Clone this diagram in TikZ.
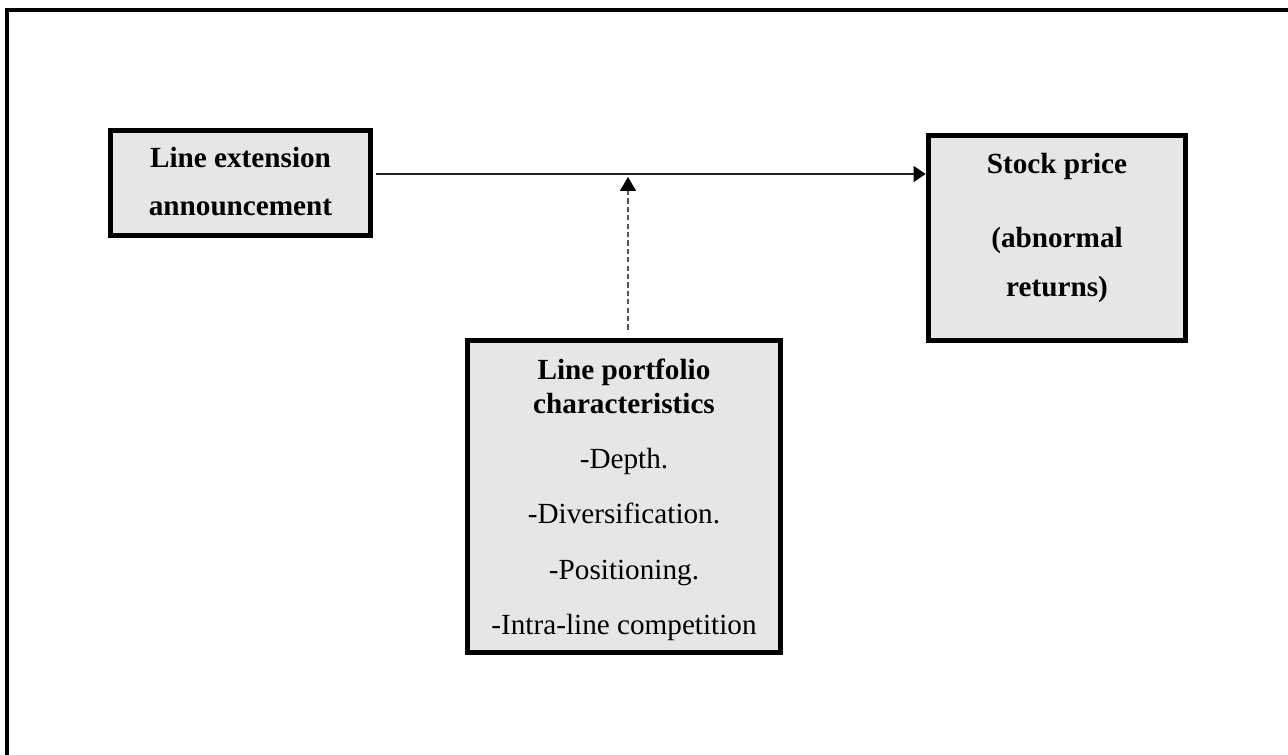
\documentclass[tikz,border=0pt]{standalone}
\usepackage{fontspec}
\setmainfont{Liberation Serif}
\usepackage{tikz}
\usetikzlibrary{arrows.meta, positioning}
\usepackage{xcolor}

\definecolor{boxgray}{HTML}{E6E6E6}
\definecolor{linegray}{HTML}{222222}
\definecolor{dashgray}{HTML}{555555}

\tikzset{
    framebox/.style={draw=black, line width=2.9pt, fill=boxgray, inner sep=0pt},
    headtxt/.style={font=\fontsize{14.6}{17}\selectfont\bfseries, anchor=base, inner sep=0pt},
    itemtxt/.style={font=\fontsize{14.6}{17}\selectfont, anchor=base, inner sep=0pt},
    mainarrow/.style={color=linegray, line width=0.6pt,
        -{Triangle[length=6pt,width=8pt,color=black]}},
    modarrow/.style={color=dashgray, line width=0.7pt, dash pattern=on 2.6pt off 1.6pt,
        -{Triangle[length=7pt,width=8pt,color=black]}}
}

\begin{document}
\begin{tikzpicture}[x=0.5pt, y=-0.5pt]
            \useasboundingbox (0,0) rectangle (1288,754);

            \draw[color=black, line width=2.2pt] (1300,10) -- (7,10) -- (7,770);

            \node[framebox, minimum width=130pt, minimum height=52.5pt] (ext) at (240.5,183) {};
            \node[headtxt] (extA) at (240.5,168) {Line extension};
            \node[headtxt] (extB) at (240.5,215) {announcement};

            \node[framebox, minimum width=128.5pt, minimum height=102.5pt] (stock) at (1057,238) {};
            \node[headtxt] (stockA) at (1057,174) {Stock price};
            \node[headtxt] (stockB) at (1057,247) {(abnormal};
            \node[headtxt] (stockC) at (1057,296) {returns)};

            \node[framebox, minimum width=156.5pt, minimum height=156pt] (port) at (624,496.5) {};
            \node[headtxt] (portA) at (624,379) {Line portfolio};
            \node[headtxt] (portB) at (624,413) {characteristics};
            \node[itemtxt] (depth) at (624,468) {-Depth.};
            \node[itemtxt] (divers) at (624,523) {-Diversification.};
            \node[itemtxt] (posit) at (624,579) {-Positioning.};
            \node[itemtxt] (intra) at (624,634) {-Intra-line competition};

            \coordinate (link) at (628,174);
            \coordinate (mod) at (628,177);

            \draw[mainarrow, shorten <=1.5pt] (ext.east |- link) -- (stock.west |- link);
            \draw[modarrow, shorten <=4pt] (port.north -| mod) -- (mod);
        \end{tikzpicture}
\end{document}
